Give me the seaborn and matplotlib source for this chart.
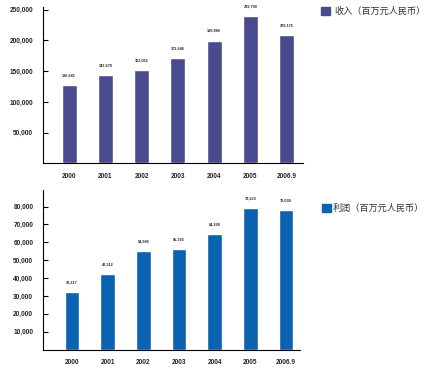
import matplotlib
matplotlib.use("Agg")
import matplotlib.pyplot as plt
import seaborn as sns
import pandas as pd
from matplotlib.patches import Rectangle

years = ["2000", "2001", "2002", "2003", "2004", "2005", "2006.9"]
revenue = [126681, 143678, 152051, 171646, 199886, 239790, 209175]
profit = [32217, 42312, 54986, 56392, 64398, 79223, 78038]
revenue_label = "收入（百万元人民币）"
profit_label = "利润（百万元人民币）"
revenue_ticks = [50000, 100000, 150000, 200000, 250000]
profit_ticks = [10000, 20000, 30000, 40000, 50000, 60000, 70000, 80000]

sns.set_theme(style="white")
plt.rcParams["font.family"] = ["Liberation Sans", "DejaVu Sans"]

W, H = 433, 369
fig = plt.figure(figsize=(W / 100, H / 100), dpi=100)

def px_axes(x0, y0, x1, y1):
    return fig.add_axes([x0 / W, 1 - y1 / H, (x1 - x0) / W, (y1 - y0) / H])

ax1 = px_axes(43, 7, 303, 163.3)
ax2 = px_axes(43, 190, 300, 349.5)

def draw(ax, values, color, ticks, ylim, xlim, label, leg_xy, gap):
    df = pd.DataFrame({"year": years, "value": values})
    sns.barplot(data=df, x="year", y="value", color=color, saturation=1,
                width=0.41, ax=ax)
    ax.set_xlim(*xlim)
    ax.set_ylim(*ylim)
    ax.set_yticks(ticks)
    ax.set_yticklabels([f"{t:,}" for t in ticks], fontsize=4.7, fontweight="bold")
    ax.set_xticks(range(len(years)))
    ax.set_xticklabels(years, fontsize=4.7, fontweight="bold")
    ax.tick_params(axis="y", direction="in", length=3.6, width=0.8, color="black", pad=7, left=True)
    ax.tick_params(axis="x", length=0, pad=7)
    ax.set_xlabel("")
    ax.set_ylabel("")
    for s in ["top", "right"]:
        ax.spines[s].set_visible(False)
    for s in ["left", "bottom"]:
        ax.spines[s].set_color("black")
        ax.spines[s].set_linewidth(0.8)
    ax.grid(False)
    ax.bar_label(ax.containers[0], labels=[f"{v:,}" for v in values],
                 padding=5.5, fontsize=2.8, fontweight="bold")
    lx, ly = leg_xy
    fig.patches.append(Rectangle((lx / W, 1 - (ly + 4.2) / H), 8.5 / W, 8.5 / H,
                                 transform=fig.transFigure, color=color))
    fig.text((lx + gap) / W, 1 - ly / H, label, fontsize=6.6, color="#333333",
             va="center", ha="left", family=["Noto Sans CJK SC", "DejaVu Sans"])

draw(ax1, revenue, "#4a4b8e", revenue_ticks, (0, 254500), (-0.72, 6.45),
     revenue_label, (321, 11), 13)
draw(ax2, profit, "#0b62b0", profit_ticks, (0, 89300), (-0.81, 6.39),
     profit_label, (322, 208), 11)

fig.savefig("out.png", dpi=100, facecolor="white")
